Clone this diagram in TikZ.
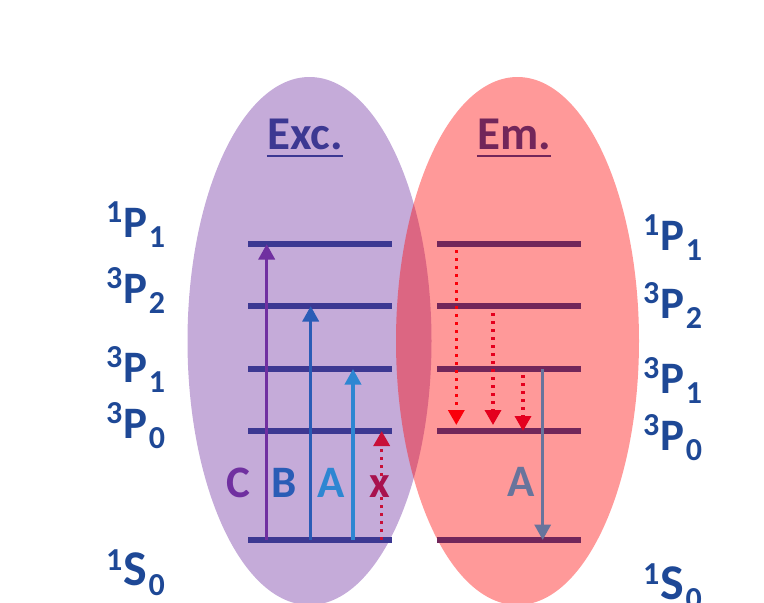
\documentclass[tikz,border=0pt]{standalone}
\usepackage{fontspec}
\setmainfont{Carlito}
\usetikzlibrary{arrows.meta}
\definecolor{excfill}{RGB}{197,171,217}
\definecolor{xlevc}{RGB}{60,56,146}
\definecolor{elevc}{RGB}{114,38,90}
\definecolor{labc}{RGB}{30,72,150}
\definecolor{cc}{RGB}{112,48,160}
\definecolor{bc}{RGB}{42,92,182}
\definecolor{ac}{RGB}{46,134,210}
\definecolor{xc}{RGB}{200,16,56}
\definecolor{xtc}{RGB}{168,18,78}
\definecolor{gc}{RGB}{104,116,156}
\definecolor{dr1}{RGB}{250,0,10}
\definecolor{dr2}{RGB}{228,0,30}
\newcommand{\enlvl}[4][45]{{\fontsize{#1}{#1}\selectfont\raisebox{15pt}{\fontsize{32}{32}\selectfont #2}\kern1.5pt#3\kern1pt\raisebox{-10pt}{\fontsize{32}{32}\selectfont #4}}}
\tikzset{
  xlev/.style={draw=xlevc, line width=5.5pt},
  elev/.style={draw=elevc, line width=5.5pt},
  uparr/.style={line width=3.5pt, -{Triangle[width=16pt,length=15.5pt]}},
  dotarr/.style={line width=3.4pt, dash pattern=on 3.4pt off 4.6pt, -{Triangle[width=16pt,length=15pt]}},
  lvlab/.style={inner sep=0pt, anchor=base west, text=labc, font=\bfseries},
  big/.style={inner sep=0pt, anchor=base, font=\bfseries\fontsize{45}{45}\selectfont},
  head/.style={inner sep=0pt, anchor=base, font=\bfseries\fontsize{47}{47}\selectfont}
}
\begin{document}
\begin{tikzpicture}[x=1pt,y=-1pt]
\useasboundingbox (0,0) rectangle (764,603);
\clip (0,0) rectangle (764,603);
% ellipses
\fill[excfill] (309.5,341) ellipse [x radius=122pt, y radius=264pt];
\fill[red, opacity=0.4] (517.5,341) ellipse [x radius=121.5pt, y radius=264pt];
% headings
\node[head, text=xlevc] (exc) at (305,149) {Exc.};
\draw[xlevc, line width=2.3pt] ([yshift=-7pt]exc.base west) -- ([yshift=-7pt]exc.base east);
\node[head, text=elevc] (em) at (514,149) {Em.};
\draw[elevc, line width=2.3pt] ([yshift=-7pt]em.base west) -- ([yshift=-7pt]em.base east);
% levels
\foreach \n/\yy in {a/244,b/306,c/369,d/431,g/540} {
  \coordinate (xl\n) at (248,\yy);
  \coordinate (xr\n) at (392,\yy);
  \draw[xlev] (xl\n) -- (xr\n);
  \coordinate (el\n) at (437,\yy);
  \coordinate (er\n) at (581,\yy);
  \draw[elev] (el\n) -- (er\n);
}
% excitation arrows
\coordinate (cS) at (266.7,540); \coordinate (cE) at (266.7,244);
\coordinate (bS) at (310.7,540); \coordinate (bE) at (310.7,306);
\coordinate (aS) at (353,540);   \coordinate (aE) at (353,369);
\coordinate (xS) at (381.7,540); \coordinate (xE) at (381.7,431);
\draw[uparr, cc] (cS) -- (cE);
\draw[uparr, bc] (bS) -- (bE);
\draw[uparr, ac] (aS) -- (aE);
\draw[dotarr, xc] (xS) -- (xE);
\node[big, text=cc] (lc) at (238,497) {C};
\node[big, text=bc] (lb) at (284,497) {B};
\node[big, text=ac] (la) at (331.5,497) {A};
\node[big, text=xtc] (lx) at (380,497) {x};
% emission arrows
\coordinate (d1S) at (456.3,250); \coordinate (d1E) at (456.3,425);
\coordinate (d2S) at (493,313);   \coordinate (d2E) at (493,425);
\coordinate (d3S) at (523,375);   \coordinate (d3E) at (523,431);
\coordinate (eaS) at (542.7,369); \coordinate (eaE) at (542.7,540);
\draw[dotarr, dr1] (d1S) -- (d1E);
\draw[dotarr, dr2] (d2S) -- (d2E);
\draw[dotarr, dr2] (d3S) -- (d3E);
\draw[uparr, gc] (eaS) -- (eaE);
\node[big, text=gc] (lea) at (521,496) {A};
% level labels left
\node[lvlab] (l1) at (106,237) {\enlvl{1}{P}{1}};
\node[lvlab] (l2) at (106,303) {\enlvl{3}{P}{2}};
\node[lvlab] (l3) at (106,382) {\enlvl{3}{P}{1}};
\node[lvlab] (l4) at (106,438) {\enlvl{3}{P}{0}};
\node[lvlab] (l5) at (106,585) {\enlvl[50]{1}{S}{0}};
% level labels right
\node[lvlab] (r1) at (643,250) {\enlvl{1}{P}{1}};
\node[lvlab] (r2) at (643,318) {\enlvl{3}{P}{2}};
\node[lvlab] (r3) at (643,393) {\enlvl{3}{P}{1}};
\node[lvlab] (r4) at (643,450) {\enlvl{3}{P}{0}};
\node[lvlab] (r5) at (643,599) {\enlvl[50]{1}{S}{0}};
\end{tikzpicture}
\end{document}
